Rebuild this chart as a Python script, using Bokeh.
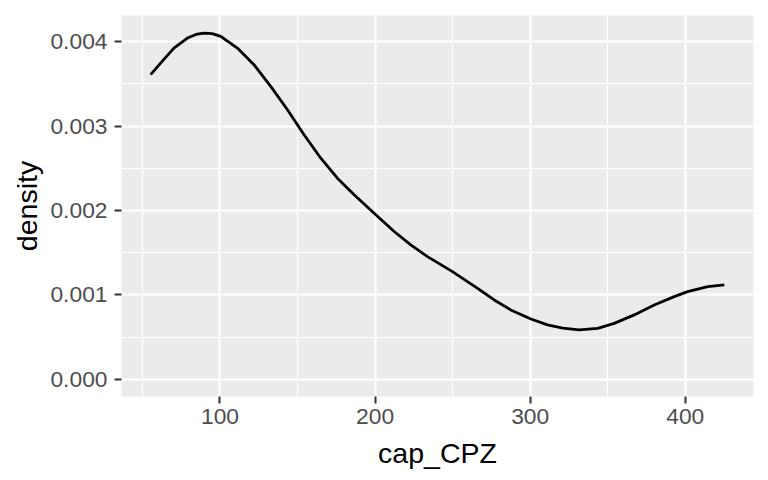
from bokeh.plotting import figure
from bokeh.models import Range1d, FixedTicker, NumeralTickFormatter, ColumnDataSource
from bokeh.embed import file_html
from bokeh.resources import INLINE

# density curve
cap_cpz = [55.3, 61.7, 70.3, 79.0, 84.5, 89.7, 95.0, 100.5, 111.2, 121.9, 132.7, 143.5,
           154.2, 165.0, 175.7, 186.5, 199.4, 212.3, 223.0, 233.8, 249.9, 266.1,
           276.8, 287.5, 300.5, 311.2, 321.0, 331.6, 343.5, 354.2, 367.1, 380.0, 392.9,
           401.5, 414.5, 425.2]
density = [0.003609, 0.003746, 0.003924, 0.004043, 0.004085, 0.004102, 0.004095, 0.004063,
           0.003924, 0.003727, 0.003470, 0.003193, 0.002897, 0.002619, 0.002382, 0.002185,
           0.001967, 0.001750, 0.001592, 0.001453, 0.001275, 0.001077, 0.000939,
           0.000821, 0.000714, 0.000643, 0.000605, 0.000584, 0.000603, 0.000662, 0.000762,
           0.000880, 0.000979, 0.001038, 0.001097, 0.001117]

x_ticks = [100, 200, 300, 400]
x_tick_labels = ["100", "200", "300", "400"]
x_minor = [50, 150, 250, 350]
y_ticks = [0.0, 0.001, 0.002, 0.003, 0.004]
y_tick_labels = ["0.000", "0.001", "0.002", "0.003", "0.004"]
y_minor = [0.0005, 0.0015, 0.0025, 0.0035]

x_title = "cap_CPZ"
y_title = "density"

FONT = "Liberation Sans"

p = figure(width=760, height=472,
           x_range=Range1d(36.5, 444.0), y_range=Range1d(-0.000205, 0.00431),
           output_backend="svg", toolbar_location=None,
           min_border_left=121, min_border_right=7,
           min_border_top=15, min_border_bottom=76)
p.outline_line_color = None
p.background_fill_color = "#EBEBEB"
p.border_fill_color = "white"

p.xaxis.ticker = FixedTicker(ticks=x_ticks, minor_ticks=x_minor)
p.yaxis.ticker = FixedTicker(ticks=y_ticks, minor_ticks=y_minor)
p.xaxis.major_label_overrides = {float(t): l for t, l in zip(x_ticks, x_tick_labels)}
p.yaxis.formatter = NumeralTickFormatter(format="0.000")
p.yaxis.major_label_overrides = {float(t): l for t, l in zip(y_ticks, y_tick_labels)}

for g in (p.xgrid, p.ygrid):
    g.grid_line_color = "white"
    g.grid_line_width = 2.2
    g.minor_grid_line_color = "white"
    g.minor_grid_line_width = 1.1

for ax in (p.xaxis, p.yaxis):
    ax.axis_line_color = None
    ax.major_tick_in = 0
    ax.major_tick_out = 7
    ax.major_tick_line_width = 2
    ax.major_tick_line_color = "#333333"
    ax.minor_tick_line_color = None
    ax.major_label_text_font = FONT
    ax.major_label_text_font_size = "22.8px"
    ax.major_label_text_color = "#4D4D4D"
    ax.axis_label_text_font = FONT
    ax.axis_label_text_font_size = "28.5px"
    ax.axis_label_text_font_style = "normal"
    ax.axis_label_text_color = "black"

p.xaxis.axis_label = x_title
p.yaxis.axis_label = y_title
p.xaxis.major_label_standoff = 5
p.yaxis.major_label_standoff = 7
p.xaxis.axis_label_standoff = 10
p.yaxis.axis_label_standoff = 4

src = ColumnDataSource(dict(x=cap_cpz, y=density))
p.line("x", "y", source=src, line_color="black", line_width=2.8, line_join="round")

open("out.html", "w").write(file_html(p, INLINE))
